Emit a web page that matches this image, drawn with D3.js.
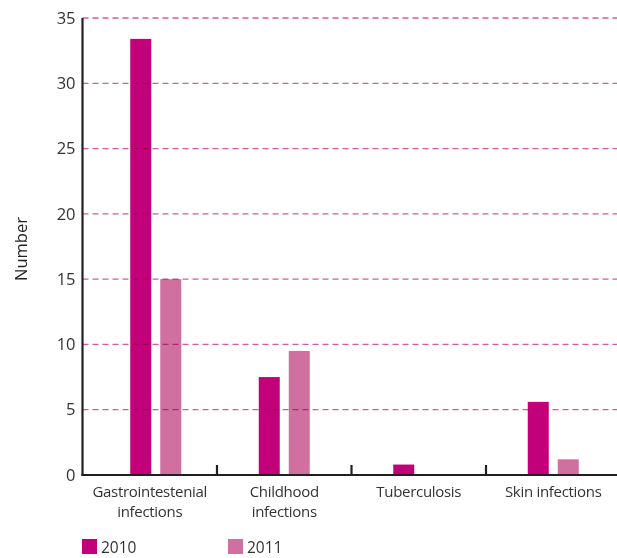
<!DOCTYPE html>
<html>
<head>
<meta charset="utf-8">
<script src="https://cdn.jsdelivr.net/npm/d3@7"></script>
<style>
  html, body { margin: 0; padding: 0; background: #fff; }
  svg { display: block; font-family: "Open Sans", "Noto Sans", sans-serif; }
</style>
</head>
<body>
<svg id="chart" width="617" height="558"></svg>
<script>
// Infections by category, two years
const categories = [["Gastrointestenial", "infections"], ["Childhood", "infections"], ["Tuberculosis"], ["Skin infections"]];
const series = ["2010", "2011"];
const values2010 = [33.4, 7.5, 0.8, 5.6];
const values2011 = [15.0, 9.5, 0, 1.2];
const yTicks = [0, 5, 10, 15, 20, 25, 30, 35];
const colors = ["#c1007a", "#d070a1"];

const svg = d3.select("#chart");
const plotLeft = 82.5, plotRight = 620.5, plotTop = 18, plotBottom = 475;

const x = d3.scaleBand().domain(d3.range(categories.length)).range([plotLeft, plotRight]).padding(0);
const y = d3.scaleLinear().domain([0, 35]).range([plotBottom, plotTop]);

const barW = 21, gap = 9;
const data = categories.map((c, i) => ({ i, vals: [values2010[i], values2011[i]] }));

// Bars
const groups = svg.append("g").selectAll("g").data(data).join("g");
groups.selectAll("rect")
  .data(d => d.vals.map((v, k) => ({ i: d.i, k, v })))
  .join("rect")
  .attr("x", d => x(d.i) + x.bandwidth() / 2 - (barW * 2 + gap) / 2 + 6 * (d.i === 0) + d.k * (barW + gap))
  .attr("width", barW)
  .attr("y", d => y(d.v))
  .attr("height", d => y(0) - y(d.v))
  .attr("fill", d => colors[d.k]);

// Dashed gridlines, drawn over the bars
svg.append("g")
  .style("mix-blend-mode", "multiply")
  .selectAll("line").data(yTicks.filter(t => t > 0)).join("line")
  .attr("x1", plotLeft).attr("x2", 617)
  .attr("y1", d => y(d)).attr("y2", d => y(d))
  .attr("stroke", "#d65a9c")
  .attr("stroke-width", 1.3)
  .attr("stroke-dasharray", "6,4");

// Y axis: labels only, plus a vertical line
const yAxis = d3.axisLeft(y).tickValues(yTicks).tickSize(0).tickPadding(7);
const gy = svg.append("g").attr("transform", `translate(${plotLeft},0)`).call(yAxis);
gy.select(".domain").remove();
gy.selectAll("text").attr("font-size", 16.5).attr("fill", "#333").attr("font-family", "'Open Sans', sans-serif");
svg.append("line").attr("x1", plotLeft).attr("x2", plotLeft).attr("y1", plotTop).attr("y2", plotBottom + 1)
  .attr("stroke", "#231f20").attr("stroke-width", 2.2);

// X axis baseline and inner ticks between categories
svg.append("line").attr("x1", plotLeft - 1).attr("x2", 617).attr("y1", plotBottom).attr("y2", plotBottom)
  .attr("stroke", "#231f20").attr("stroke-width", 2.2);
svg.append("g").selectAll("line").data(d3.range(1, categories.length)).join("line")
  .attr("x1", d => x(d)).attr("x2", d => x(d))
  .attr("y1", plotBottom).attr("y2", plotBottom - 10)
  .attr("stroke", "#231f20").attr("stroke-width", 2.2);

// Category labels
const labels = svg.append("g").selectAll("text").data(categories).join("text")
  .attr("text-anchor", "middle")
  .attr("font-size", 15)
  .attr("letter-spacing", -0.3)
  .attr("fill", "#333")
  .attr("transform", (d, i) => `translate(${x(i) + x.bandwidth() / 2},497)`);
labels.selectAll("tspan").data(d => d).join("tspan")
  .attr("x", 0).attr("dy", (d, j) => j === 0 ? 0 : 20)
  .text(d => d);

// Y axis title
svg.append("text")
  .attr("transform", "translate(27,249) rotate(-90)")
  .attr("text-anchor", "middle")
  .attr("font-size", 16.5)
  .attr("fill", "#222")
  .text("Number");

// Legend
const legend = svg.append("g").selectAll("g").data(series).join("g")
  .attr("transform", (d, i) => `translate(${82 + i * 146},539)`);
legend.append("rect").attr("width", 15).attr("height", 15).attr("fill", (d, i) => colors[i]);
legend.append("text").attr("x", 19).attr("y", 13.5).attr("font-size", 15.5).attr("fill", "#333").text(d => d);
</script>
</body>
</html>
